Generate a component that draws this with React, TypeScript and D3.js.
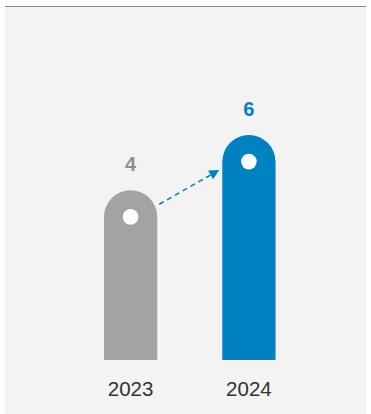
import React from "react";
import * as d3 from "d3";

const years = ["2023", "2024"];
const values = [4, 6];
const barColors = ["#a2a3a2", "#0081c2"];
const labelColors = ["#8e8e8e", "#0081c2"];

const W = 371;
const H = 414;

export default function App() {
  const x = d3.scaleBand<string>().domain(years).range([104, 275.5]).paddingInner(0.55).paddingOuter(0);
  const y = d3.scaleLinear().domain([-2.145, 6]).range([360, 135]);
  const bw = x.bandwidth();
  const r = bw / 2;

  const pts = years.map((yr, i) => ({
    yr,
    v: values[i],
    cx: (x(yr) as number) + r,
    top: y(values[i]),
  }));

  const a0 = pts[0];
  const a1 = pts[1];
  const start: [number, number] = [a0.cx + r + 2, a0.top + 14];
  const end: [number, number] = [a1.cx - r - 3, a1.top + 35];
  const ang = Math.atan2(end[1] - start[1], end[0] - start[0]);
  const ah = 10;
  const aw = 5;
  const lineEnd: [number, number] = [end[0] - Math.cos(ang) * ah, end[1] - Math.sin(ang) * ah];
  const p1 = [lineEnd[0] + Math.sin(ang) * aw, lineEnd[1] - Math.cos(ang) * aw];
  const p2 = [lineEnd[0] - Math.sin(ang) * aw, lineEnd[1] + Math.cos(ang) * aw];
  const base = y.domain()[0] as number;

  return (
    <svg width={W} height={H} style={{ position: "absolute", left: 0, top: 0, fontFamily: "Liberation Sans, Arial, sans-serif" }}>
      <rect x={5} y={6} width={361} height={H - 6} fill="#f3f3f3" />
      <line x1={5} x2={366} y1={6.5} y2={6.5} stroke="#8a8a8a" strokeWidth={1.2} />
      {pts.map((p, i) => {
        const by = y(base);
        const path = `M${p.cx - r},${by} L${p.cx - r},${p.top + r} A${r},${r} 0 0 1 ${p.cx + r},${p.top + r} L${p.cx + r},${by} Z`;
        return (
          <g key={p.yr}>
            <path d={path} fill={barColors[i]} />
            <circle cx={p.cx} cy={p.top + r} r={7.8} fill="#ffffff" />
            <text x={p.cx} y={p.top - 19} textAnchor="middle" fontSize={20} fontWeight="bold" fill={labelColors[i]}>
              {p.v}
            </text>
            <text x={p.cx} y={396} textAnchor="middle" fontSize={20.5} fill="#333333">
              {p.yr}
            </text>
          </g>
        );
      })}
      <line x1={start[0]} y1={start[1]} x2={lineEnd[0]} y2={lineEnd[1]} stroke="#0081c2" strokeWidth={1.5} strokeDasharray="5,4" />
      <path d={`M${end[0]},${end[1]} L${p1[0]},${p1[1]} L${p2[0]},${p2[1]} Z`} fill="#0081c2" />
    </svg>
  );
}
